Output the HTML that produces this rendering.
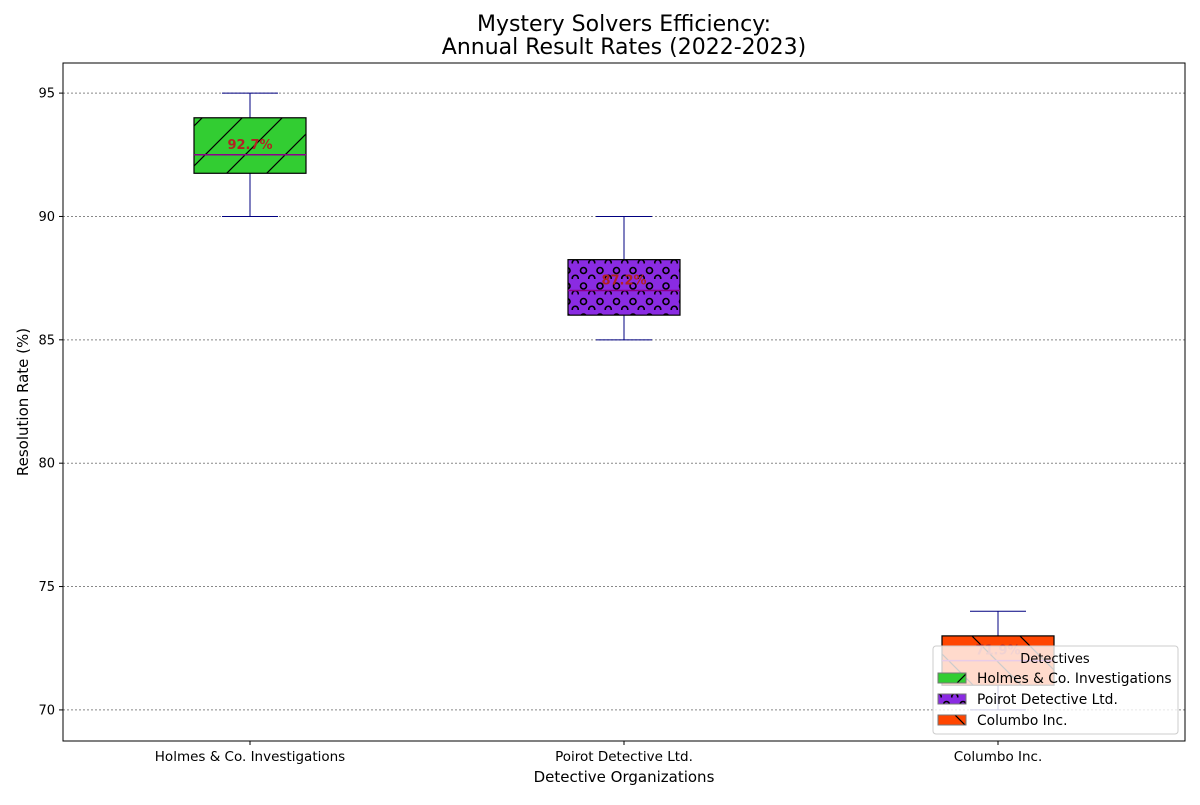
<!DOCTYPE html>
<html><head><meta charset="utf-8"><style>
body{margin:0;background:#fff;}
svg{font-family:"DejaVu Sans","Liberation Sans",sans-serif;}
</style></head><body>
<svg id="chart" width="1200" height="800" xmlns="http://www.w3.org/2000/svg">
<defs>
<pattern id="hSlash" patternUnits="userSpaceOnUse" width="40" height="40"><path d="M-10,50 L50,-10 M-30,30 L30,-30 M10,70 L70,10" stroke="#000" stroke-width="1.2"/></pattern>
<pattern id="hBack" patternUnits="userSpaceOnUse" width="48" height="48"><path d="M-10,-10 L58,58 M-34,14 L34,82 M14,-34 L82,34" stroke="#000" stroke-width="1.2"/></pattern>
<pattern id="hCirc" patternUnits="userSpaceOnUse" width="16.5" height="15.5"><circle cx="6" cy="7" r="3" fill="none" stroke="#000" stroke-width="1.6"/><circle cx="14.25" cy="14.75" r="3" fill="none" stroke="#000" stroke-width="1.6"/><circle cx="-2.25" cy="14.75" r="3" fill="none" stroke="#000" stroke-width="1.6"/></pattern>
</defs>
<text x="624" y="31" text-anchor="middle" font-size="22">Mystery Solvers Efficiency:</text>
<text x="624" y="54" text-anchor="middle" font-size="22">Annual Result Rates (2022-2023)</text>
<g id="grid"></g>
<g id="boxes"></g>
<rect x="63" y="63" width="1122" height="678" fill="none" stroke="#000" stroke-width="1"/>
<g id="axes"></g>
<text x="624" y="782" text-anchor="middle" font-size="15">Detective Organizations</text>
<text transform="translate(28,402) rotate(-90)" text-anchor="middle" font-size="15">Resolution Rate (%)</text>
<g>
<rect x="933" y="646" width="245" height="88" rx="3" fill="#fff" fill-opacity="0.8" stroke="#ccc"/>
<text x="1055" y="663" text-anchor="middle" font-size="13">Detectives</text>
<g id="legendEntries"></g>
</g>
</svg>
<script>
const categories=["Holmes & Co. Investigations","Poirot Detective Ltd.","Columbo Inc."];
const whiskerLow=[90,85,70];
const q1=[91.75,86,71];
const medians=[92.5,87,72];
const q3=[94,88.25,73];
const whiskerHigh=[95,90,74];
const meanLabels=[92.7,87.2,71.9];
const yTicks=[70,75,80,85,90,95];
const colors=["#32cd32","#8a2be2","#ff4500"];
const fills=["url(#hSlash)","url(#hCirc)","url(#hBack)"];
const NS="http://www.w3.org/2000/svg";
const X0=63,X1=1185,Y0=741,Y1=63,ymin=68.74,ymax=96.22;
const xs=i=>X0+(i+0.5)*(X1-X0)/categories.length;
const ys=v=>Y0-(v-ymin)/(ymax-ymin)*(Y0-Y1);
function mk(tag,attrs,parent){const e=document.createElementNS(NS,tag);for(const k in attrs)e.setAttribute(k,attrs[k]);parent.appendChild(e);return e;}
const grid=document.getElementById('grid'),axes=document.getElementById('axes'),boxes=document.getElementById('boxes'),leg=document.getElementById('legendEntries');
yTicks.forEach(t=>{
  const y=ys(t);
  const g=mk('line',{x1:X0,x2:X1,y1:y,y2:y,stroke:'#888','stroke-dasharray':'2,2','stroke-width':1},grid);
  
  
  const tk=mk('line',{x1:X0-4,x2:X0,y1:y,y2:y,stroke:'#000'},axes);
  
  
  const tx=mk('text',{x:X0-8,y:y+4.5,'text-anchor':'end','font-size':13},axes);
  tx.textContent=t;
  
  
});
const bw=112;
categories.forEach((c,i)=>{
  const x=xs(i);
  const g=mk('g',{},boxes);
  
  
  mk('line',{x1:x,x2:x,y1:ys(q3[i]),y2:ys(whiskerHigh[i]),stroke:'#000080'},g);
  mk('line',{x1:x,x2:x,y1:ys(q1[i]),y2:ys(whiskerLow[i]),stroke:'#000080'},g);
  mk('line',{x1:x-28,x2:x+28,y1:ys(whiskerHigh[i]),y2:ys(whiskerHigh[i]),stroke:'#000080'},g);
  mk('line',{x1:x-28,x2:x+28,y1:ys(whiskerLow[i]),y2:ys(whiskerLow[i]),stroke:'#000080'},g);
  const top=ys(q3[i]),h=ys(q1[i])-top;
  mk('rect',{x:x-bw/2,y:top,width:bw,height:h,fill:colors[i]},g);
  mk('rect',{x:x-bw/2,y:top,width:bw,height:h,fill:fills[i],stroke:'#000','stroke-width':1.2},g);
  mk('line',{x1:x-bw/2,x2:x+bw/2,y1:ys(medians[i]),y2:ys(medians[i]),stroke:'#8b008b','stroke-width':1.5},g);
  const lt=mk('text',{x:x,y:ys(medians[i])-6,'text-anchor':'middle','font-size':13,'font-weight':'bold',fill:'#b22222'},g);
  lt.textContent=meanLabels[i].toFixed(1)+'%';
  const tk=mk('line',{x1:x,x2:x,y1:Y0,y2:Y0+4,stroke:'#000'},axes);
  
  
  const tx=mk('text',{x:x,y:Y0+20,'text-anchor':'middle','font-size':13.5},axes);
  tx.textContent=c;
  
  
  const ly=678+i*21;
  const le=mk('g',{},leg);
  
  
  mk('rect',{x:938,y:ly-5,width:28,height:10,fill:colors[i]},le);
  mk('rect',{x:938,y:ly-5,width:28,height:10,fill:fills[i],stroke:'#777'},le);
  const t=mk('text',{x:977,y:ly+5,'font-size':13.8},le);
  t.textContent=c;
});
</script>
</body></html>
